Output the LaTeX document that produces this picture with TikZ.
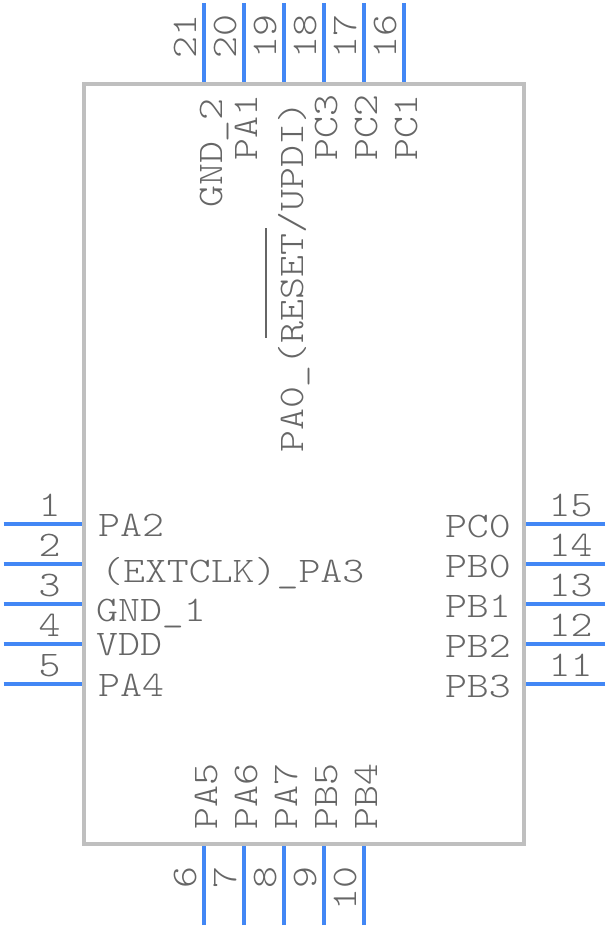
\documentclass[tikz,border=0pt]{standalone}
\usepackage{fontspec}
\usepackage{xcolor}
\newfontfamily\pinfont[FakeStretch=1.16]{Latin Modern Mono Light}
\definecolor{pinblue}{HTML}{4287F5}
\definecolor{bodygray}{HTML}{BFBFBF}
\definecolor{textgray}{HTML}{666666}

\begin{document}
\begin{tikzpicture}[
                x=1pt,y=-1pt,
                body/.style={draw=bodygray,line width=4pt,rectangle,minimum width=440pt,minimum height=760pt,inner sep=0pt},
                pin/.style={draw=pinblue,line width=4pt},
                txt/.style={text=textgray,inner sep=0pt,font=\fontsize{36}{36}\pinfont},
                bar/.style={draw=textgray,line width=2pt},
            ]
            \useasboundingbox (0,0) rectangle (608,928);

            \node[body] (chip) at (304,464) {};

            % left side
            \foreach \n/\y in {1/524,2/564,3/604,4/644,5/684} {
                \coordinate (pinL\n) at (3.5,\y);
                \coordinate (padL\n) at (82,\y);
                \draw[pin] (pinL\n) -- (padL\n);
                \node[txt,anchor=base] (numL\n) at (49.5,\y-8) {\n};
            }

            % right side
            \foreach \n/\y in {15/524,14/564,13/604,12/644,11/684} {
                \coordinate (pinR\n) at (605,\y);
                \coordinate (padR\n) at (526,\y);
                \draw[pin] (pinR\n) -- (padR\n);
                \node[txt,anchor=base] (numR\n) at (570.5,\y-8) {\n};
            }

            % top side
            \foreach \n/\x in {21/204,20/244,19/284,18/324,17/364,16/404} {
                \coordinate (pinT\n) at (\x,3.5);
                \coordinate (padT\n) at (\x,82);
                \draw[pin] (pinT\n) -- (padT\n);
                \node[txt,rotate=90,anchor=base west] (numT\n) at (\x-8,59) {\n};
            }

            % bottom side
            \foreach \n/\x in {6/204,7/244,8/284,9/324,10/364} {
                \coordinate (pinB\n) at (\x,925);
                \coordinate (padB\n) at (\x,846);
                \draw[pin] (pinB\n) -- (padB\n);
                \node[txt,rotate=90,anchor=base east] (numB\n) at (\x-8,866) {\n};
            }

            % signal names
            \node[txt,anchor=base west] (sigPAb) at (98,536) {PA2};
            \node[txt,anchor=base west] (sigPAc) at (101,582) {(EXTCLK)\_PA3};
            \node[txt,anchor=base west] (sigGNDa) at (96,621) {GND\_1};
            \node[txt,anchor=base west] (sigVDD) at (96,655) {VDD};
            \node[txt,anchor=base west] (sigPAd) at (98,696) {PA4};

            \foreach \s/\y in {PC0/537,PB0/577,PB1/617,PB2/657,PB3/697} {
                \node[txt,anchor=base east] (sig\s) at (511,\y) {\s};
            }

            \foreach \s/\x in {PA5/217.5,PA6/257.5,PA7/297.5,PB5/337.5,PB4/377.5} {
                \node[txt,rotate=90,anchor=base west] (sig\s) at (\x,830) {\s};
            }

            \foreach \s/\x in {PA1/257.5,PC3/337.5,PC2/377.5,PC1/417.5} {
                \node[txt,rotate=90,anchor=base west] (sig\s) at (\x,161) {\s};
            }

            \node[txt,rotate=90,anchor=base west] (sigGNDb) at (222,208) {GND\_2};
            \node[txt,rotate=90,anchor=base west] (sigPAa) at (303,453) {PA0\_(RESET/UPDI)};

            \coordinate (barA) at (266,228);
            \coordinate (barB) at (266,338);
            \draw[bar] (barA) -- (barB);
        \end{tikzpicture}
\end{document}
